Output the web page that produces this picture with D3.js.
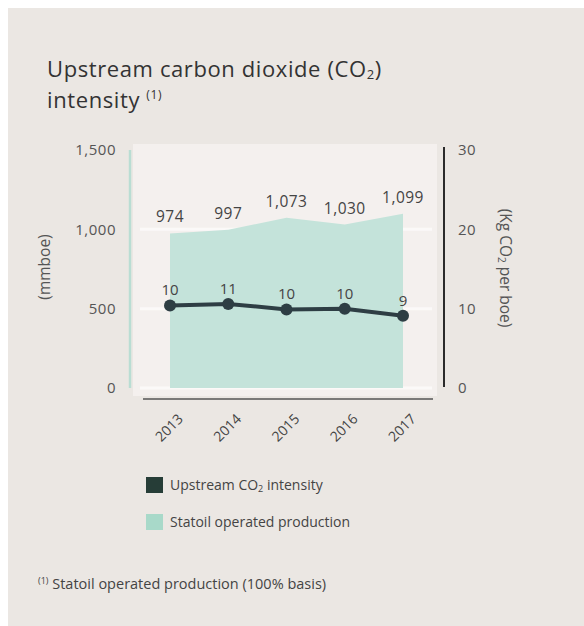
<!DOCTYPE html>
<html><head><meta charset="utf-8">
<script src="https://cdn.jsdelivr.net/npm/d3@7"></script>
<style>
html,body{margin:0;padding:0;background:#fff;}
svg{display:block;font-family:"Open Sans","Noto Sans",sans-serif;}
</style></head>
<body>
<svg id="c" width="584" height="626"></svg>
<script>
const years = ["2013","2014","2015","2016","2017"];
const production = [974, 997, 1073, 1030, 1099];
const productionLabels = ["974","997","1,073","1,030","1,099"];
const intensity = [10.4, 10.6, 9.9, 10.0, 9.1];
const intensityLabels = ["10","11","10","10","9"];
const leftTicks = [0, 500, 1000, 1500];
const rightTicks = [0, 10, 20, 30];

const svg = d3.select("#c");
svg.append("rect").attr("x",8).attr("y",8).attr("width",576).attr("height",618).attr("fill","#ebe7e3");

// title
const t = svg.append("text").attr("x",47).attr("y",77).attr("fill","#333").attr("font-size",22).attr("letter-spacing",0.6);
t.append("tspan").text("Upstream carbon dioxide (CO");
t.append("tspan").attr("font-size",13).attr("dy",2).text("2");
t.append("tspan").attr("dy",-2).text(")");
const t2 = svg.append("text").attr("x",47).attr("y",108).attr("fill","#333").attr("font-size",22).attr("letter-spacing",0.6);
t2.append("tspan").text("intensity ");
t2.append("tspan").attr("font-size",12).attr("dy",-9).text("(1)");

const x = d3.scalePoint().domain(years).range([170, 403]);
const yL = d3.scaleLinear().domain([0,1500]).range([388,150]);
const yR = d3.scaleLinear().domain([0,30]).range([388,150]);

// panel
svg.append("rect").attr("x",133).attr("y",144).attr("width",304).attr("height",252).attr("fill","#f4f0ee");
// grid lines
svg.selectAll(".g").data([1000,500,0]).join("line")
  .attr("x1",140).attr("x2",432).attr("y1",d=>yL(d)).attr("y2",d=>yL(d))
  .attr("stroke","#fbf9f8").attr("stroke-width",3);

// area
const area = d3.area().x((d,i)=>x(years[i])).y0(yL(0)).y1(d=>yL(d));
svg.append("path").datum(production).attr("d",area).attr("fill","#c4e3da");

// left axis line
svg.append("line").attr("x1",130).attr("x2",130).attr("y1",150).attr("y2",388)
  .attr("stroke","#b9ddd3").attr("stroke-width",2.5);
// right axis line
svg.append("line").attr("x1",444).attr("x2",444).attr("y1",147).attr("y2",387)
  .attr("stroke","#2b2b2b").attr("stroke-width",2);
// x axis line
svg.append("line").attr("x1",143).attr("x2",433).attr("y1",399).attr("y2",399)
  .attr("stroke","#555").attr("stroke-width",1.5);

// left axis
const axL = d3.axisLeft(yL).tickValues(leftTicks).tickSize(0).tickPadding(0).tickFormat(d3.format(","));
const gL = svg.append("g").attr("transform","translate(116,0)").call(axL);
gL.select(".domain").remove();
gL.selectAll("text").attr("font-size",15).attr("letter-spacing",0.5).attr("fill","#555").attr("font-family","Open Sans");
// right axis
const axR = d3.axisRight(yR).tickValues(rightTicks).tickSize(0).tickPadding(0);
const gR = svg.append("g").attr("transform","translate(458,0)").call(axR);
gR.select(".domain").remove();
gR.selectAll("text").attr("font-size",15).attr("letter-spacing",0.5).attr("fill","#555").attr("font-family","Open Sans");

// axis titles
svg.append("text").attr("transform","translate(50,267) rotate(-90)").attr("text-anchor","middle")
  .attr("font-size",15.5).attr("fill","#555").text("(mmboe)");
const rt = svg.append("text").attr("transform","translate(500,268) rotate(90)").attr("text-anchor","middle")
  .attr("font-size",15.5).attr("fill","#555");
rt.append("tspan").text("(Kg CO");
rt.append("tspan").attr("font-size",10).attr("dy",2).text("2");
rt.append("tspan").attr("dy",-2).text(" per boe)");

// x labels
svg.selectAll(".xl").data(years).join("text")
  .attr("transform",d=>`translate(${x(d)+7},413) rotate(-45)`)
  .attr("text-anchor","end").attr("dy","0.7em").attr("font-size",14).attr("fill","#444").text(d=>d);

// production labels
svg.selectAll(".pl").data(production).join("text")
  .attr("x",(d,i)=>x(years[i])).attr("y",d=>yL(d)-11).attr("text-anchor","middle")
  .attr("font-size",15.5).attr("letter-spacing",0.5).attr("fill","#444").text((d,i)=>productionLabels[i]);

// line
const line = d3.line().x((d,i)=>x(years[i])).y(d=>yR(d));
svg.append("path").datum(intensity).attr("d",line).attr("fill","none")
  .attr("stroke","#2e3e44").attr("stroke-width",4);
svg.selectAll(".pt").data(intensity).join("circle")
  .attr("cx",(d,i)=>x(years[i])).attr("cy",d=>yR(d)).attr("r",6).attr("fill","#2e3e44");
svg.selectAll(".il").data(intensity).join("text")
  .attr("x",(d,i)=>x(years[i])).attr("y",d=>yR(d)-10).attr("text-anchor","middle")
  .attr("font-size",15).attr("fill","#444").text((d,i)=>intensityLabels[i]);

// legend
svg.append("rect").attr("x",146).attr("y",477).attr("width",17).attr("height",16).attr("fill","#263d37");
const l1 = svg.append("text").attr("x",170).attr("y",490).attr("font-size",14).attr("fill","#444");
l1.append("tspan").text("Upstream CO");
l1.append("tspan").attr("font-size",9).attr("dy",2).text("2");
l1.append("tspan").attr("dy",-2).text(" intensity");
svg.append("rect").attr("x",146).attr("y",514).attr("width",17).attr("height",16).attr("fill","#a8d9c9");
svg.append("text").attr("x",170).attr("y",527).attr("font-size",14).attr("fill","#444").text("Statoil operated production");

// footnote
const fn = svg.append("text").attr("x",38).attr("y",589).attr("font-size",14.5).attr("fill","#444");
fn.append("tspan").attr("font-size",9).attr("dy",-5).text("(1)");
fn.append("tspan").attr("dy",5).text(" Statoil operated production (100% basis)");
</script>
</body></html>
